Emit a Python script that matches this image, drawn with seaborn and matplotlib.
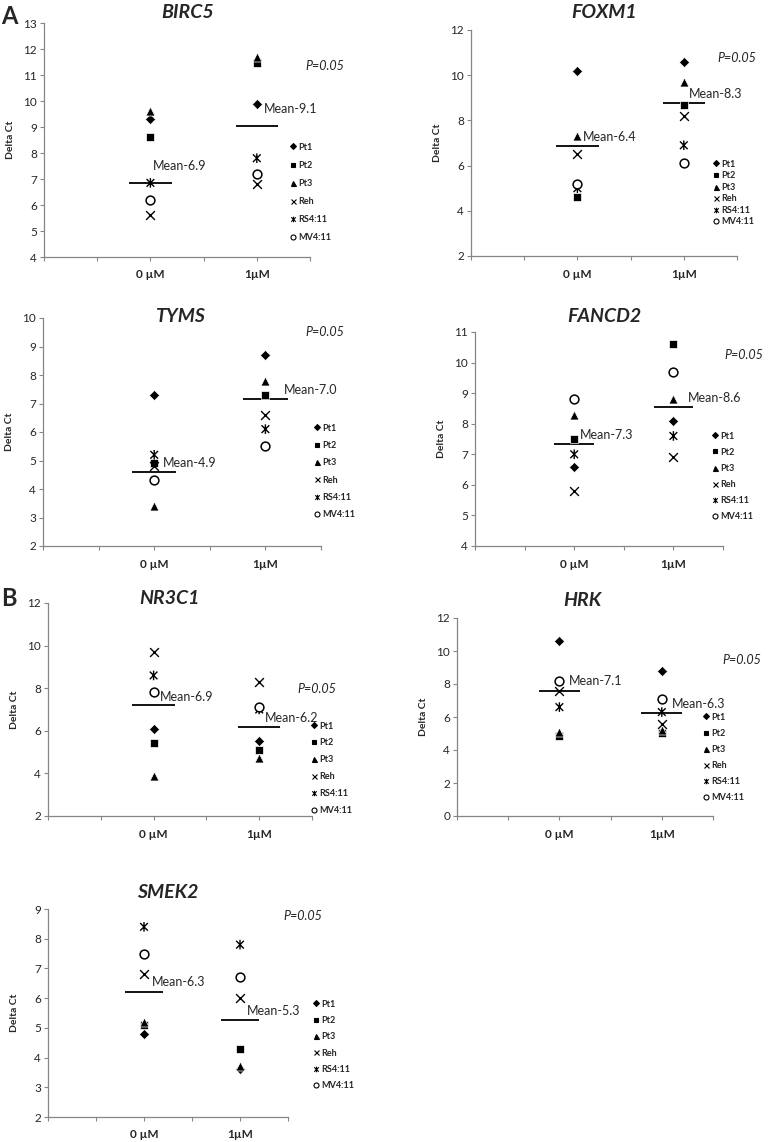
import matplotlib
matplotlib.use("Agg")
import matplotlib.pyplot as plt
import seaborn as sns
import pandas as pd
from matplotlib.lines import Line2D
from matplotlib.path import Path

# --- data (delta Ct, one value per sample) ---
samples = ["Pt1", "Pt2", "Pt3", "Reh", "RS4:11", "MV4:11"]
doses = ["0 µM", "1µM"]
dose_pos = [2, 4]

birc5_0 = [9.3, 8.6, 9.6, 5.6, 6.85, 6.2]
birc5_1 = [9.9, 11.45, 11.7, 6.8, 7.8, 7.2]
foxm1_0 = [10.2, 4.6, 7.3, 6.5, 5.0, 5.2]
foxm1_1 = [10.6, 8.7, 9.7, 8.2, 6.9, 6.1]
tyms_0 = [7.3, 4.9, 3.4, 4.8, 5.2, 4.3]
tyms_1 = [8.7, 7.3, 7.8, 6.6, 6.1, 5.5]
fancd2_0 = [6.6, 7.5, 8.3, 5.8, 7.0, 8.8]
fancd2_1 = [8.1, 10.6, 8.8, 6.9, 7.6, 9.7]
nr3c1_0 = [6.1, 5.45, 3.9, 9.7, 8.6, 7.8]
nr3c1_1 = [5.5, 5.1, 4.7, 8.3, 7.0, 7.1]
hrk_0 = [10.6, 4.85, 5.1, 7.6, 6.6, 8.2]
hrk_1 = [8.8, 5.05, 5.2, 5.6, 6.3, 7.1]
smek2_0 = [4.8, 5.1, 5.2, 6.8, 8.4, 7.5]
smek2_1 = [3.6, 4.3, 3.7, 6.0, 7.8, 6.7]

# mean bars as drawn, and their labels
birc5_mean = [6.85, 9.05]
foxm1_mean = [6.85, 8.75]
tyms_mean = [4.6, 7.15]
fancd2_mean = [7.35, 8.55]
nr3c1_mean = [7.2, 6.2]
hrk_mean = [7.6, 6.25]
smek2_mean = [6.22, 5.26]

birc5_lbl = ["Mean-6.9", "Mean-9.1"]
foxm1_lbl = ["Mean-6.4", "Mean-8.3"]
tyms_lbl = ["Mean-4.9", "Mean-7.0"]
fancd2_lbl = ["Mean-7.3", "Mean-8.6"]
nr3c1_lbl = ["Mean-6.9", "Mean-6.2"]
hrk_lbl = ["Mean-7.1", "Mean-6.3"]
smek2_lbl = ["Mean-6.3", "Mean-5.3"]

p_text = "P=0.05"

# Excel-style star: an x with a vertical bar through it
star = Path([(-0.8, -0.8), (0.8, 0.8), (-0.8, 0.8), (0.8, -0.8), (0, -1), (0, 1)],
            [Path.MOVETO, Path.LINETO, Path.MOVETO, Path.LINETO, Path.MOVETO, Path.LINETO])

# marker style per sample
styles = {
    "Pt1": dict(marker="D", s=26, color="black"),
    "Pt2": dict(marker="s", s=38, color="black"),
    "Pt3": dict(marker="^", s=42, color="black"),
    "Reh": dict(marker="x", s=40, color="black", linewidth=1.0),
    "RS4:11": dict(marker=star, s=48, color="none", edgecolor="black", linewidth=1.0),
    "MV4:11": dict(marker="o", s=40, color="white", edgecolor="black", linewidth=1.1),
}
leg_size = {"Pt1": 3.0, "Pt2": 3.4, "Pt3": 3.6, "Reh": 3.6, "RS4:11": 4.0, "MV4:11": 3.6}
leg_face = {"RS4:11": "none"}

# --- layout (pixels in the 771x1142 canvas) ---
W, H = 771, 1142
panels = [
    dict(gene="BIRC5", v0=birc5_0, v1=birc5_1, mean=birc5_mean, lbl=birc5_lbl,
         box=(44, 310, 23, 257), ylim=(4, 13), step=1, title_xy=(188, 13),
         lbl_xy=[(2.05, 7.5), (4.14, 9.68)], p_xy=(4.91, 11.35), leg=(293, 148, 17.8)),
    dict(gene="FOXM1", v0=foxm1_0, v1=foxm1_1, mean=foxm1_mean, lbl=foxm1_lbl,
         box=(471, 737, 30, 256), ylim=(2, 12), step=2, title_xy=(604, 13),
         lbl_xy=[(2.11, 7.28), (4.09, 9.17)], p_xy=(4.64, 10.75), leg=(716, 165, 11.2)),
    dict(gene="TYMS", v0=tyms_0, v1=tyms_1, mean=tyms_mean, lbl=tyms_lbl,
         box=(43, 321, 318, 546), ylim=(2, 10), step=1, title_xy=(181, 316),
         lbl_xy=[(2.15, 4.9), (4.33, 7.48)], p_xy=(4.72, 9.5), leg=(317, 429, 17)),
    dict(gene="FANCD2", v0=fancd2_0, v1=fancd2_1, mean=fancd2_mean, lbl=fancd2_lbl,
         box=(475, 723, 332, 546), ylim=(4, 11), step=1, title_xy=(604, 316),
         lbl_xy=[(2.11, 7.62), (4.3, 8.83)], p_xy=(5.03, 10.24), leg=(715, 437, 15.7)),
    dict(gene="NR3C1", v0=nr3c1_0, v1=nr3c1_1, mean=nr3c1_mean, lbl=nr3c1_lbl,
         box=(48, 312, 603, 816), ylim=(2, 12), step=2, title_xy=(169, 599),
         lbl_xy=[(2.11, 7.61), (4.1, 6.62)], p_xy=(4.73, 7.97), leg=(314, 727, 16.5)),
    dict(gene="HRK", v0=hrk_0, v1=hrk_1, mean=hrk_mean, lbl=hrk_lbl,
         box=(457, 713, 618, 816), ylim=(0, 12), step=2, title_xy=(582, 600),
         lbl_xy=[(2.19, 8.18), (4.2, 6.81)], p_xy=(5.19, 9.43), leg=(706, 718, 15.8)),
    dict(gene="SMEK2", v0=smek2_0, v1=smek2_1, mean=smek2_mean, lbl=smek2_lbl,
         box=(48, 288, 909, 1117), ylim=(2, 9), step=1, title_xy=(168, 892),
         lbl_xy=[(2.17, 6.56), (4.15, 5.58)], p_xy=(4.9, 8.77), leg=(316, 1005, 16)),
]

sns.set_style("ticks")
plt.rcParams["font.family"] = ["Lato", "DejaVu Sans"]
axis_grey = "#868686"

fig = plt.figure(figsize=(W / 100, H / 100), dpi=100)

for p in panels:
    l, r, t, b = p["box"]
    ax = fig.add_axes([l / W, 1 - b / H, (r - l) / W, (b - t) / H])

    df = pd.DataFrame({
        "sample": samples * 2,
        "dose": [doses[0]] * 6 + [doses[1]] * 6,
        "pos": [dose_pos[0]] * 6 + [dose_pos[1]] * 6,
        "dct": p["v0"] + p["v1"],
    })
    for name in samples:
        sub = df[df["sample"] == name]
        sns.scatterplot(data=sub, x="pos", y="dct", ax=ax, legend=False,
                        zorder=3, clip_on=False, **styles[name])

    # mean bars + labels
    for i, m in enumerate(p["mean"]):
        ax.hlines(m, dose_pos[i] - 0.4, dose_pos[i] + 0.4, color="black", lw=1.3, zorder=2)
        tx, ty = p["lbl_xy"][i]
        ax.text(tx, ty, p["lbl"][i], fontsize=9, va="center", ha="left", zorder=4)
    ax.text(p["p_xy"][0], p["p_xy"][1], p_text, fontsize=9, style="italic",
            va="center", ha="left", clip_on=False)

    # axes styling
    lo, hi = p["ylim"]
    ax.set_xlim(0, 5)
    ax.set_ylim(lo, hi)
    ax.set_yticks(range(lo, hi + 1, p["step"]))
    ax.set_xticks(range(6))
    ax.set_xticklabels(["", "", doses[0], "", doses[1], ""], fontweight="bold", fontsize=8.5)
    ax.tick_params(axis="y", labelsize=8.5, length=3, width=0.8, color=axis_grey, pad=2)
    ax.tick_params(axis="x", length=3, width=0.8, color=axis_grey, pad=6)
    ax.set_xlabel("")
    ax.set_ylabel("Delta Ct", fontsize=7.5, fontweight="bold")
    ax.yaxis.set_label_coords(-29 / (r - l), 0.5)
    sns.despine(ax=ax)
    for sp in ("left", "bottom"):
        ax.spines[sp].set_color(axis_grey)
        ax.spines[sp].set_linewidth(0.9)

    # gene title
    fig.text(p["title_xy"][0] / W, 1 - p["title_xy"][1] / H, p["gene"], fontsize=14,
             fontweight="bold", style="italic", ha="center", va="center")

    # legend
    handles = []
    for name in samples:
        st = styles[name]
        handles.append(Line2D([], [], linestyle="none", marker=st["marker"],
                              markersize=leg_size[name],
                              markerfacecolor=leg_face.get(name, st["color"]),
                              markeredgecolor="black", markeredgewidth=0.8, label=name))
    lx, ly, sp_px = p["leg"]
    fs = 6.5
    fs_px = fs * 100 / 72
    ax.legend(handles=handles, loc="upper left", frameon=False, borderpad=0,
              borderaxespad=0, handlelength=0.7, handletextpad=0.25,
              labelspacing=max((sp_px - 8.65) / fs_px, 0.05),
              prop=dict(size=fs, weight="bold"),
              bbox_to_anchor=((lx - 3) / W, 1 - (ly - 0.6 * fs_px) / H),
              bbox_transform=fig.transFigure)

# panel letters
fig.text(1 / W, 1 - 17 / H, "A", fontsize=17, fontweight="bold", ha="left", va="center")
fig.text(1 / W, 1 - 598 / H, "B", fontsize=17, fontweight="bold", ha="left", va="center")

fig.savefig("out.png", dpi=100)
